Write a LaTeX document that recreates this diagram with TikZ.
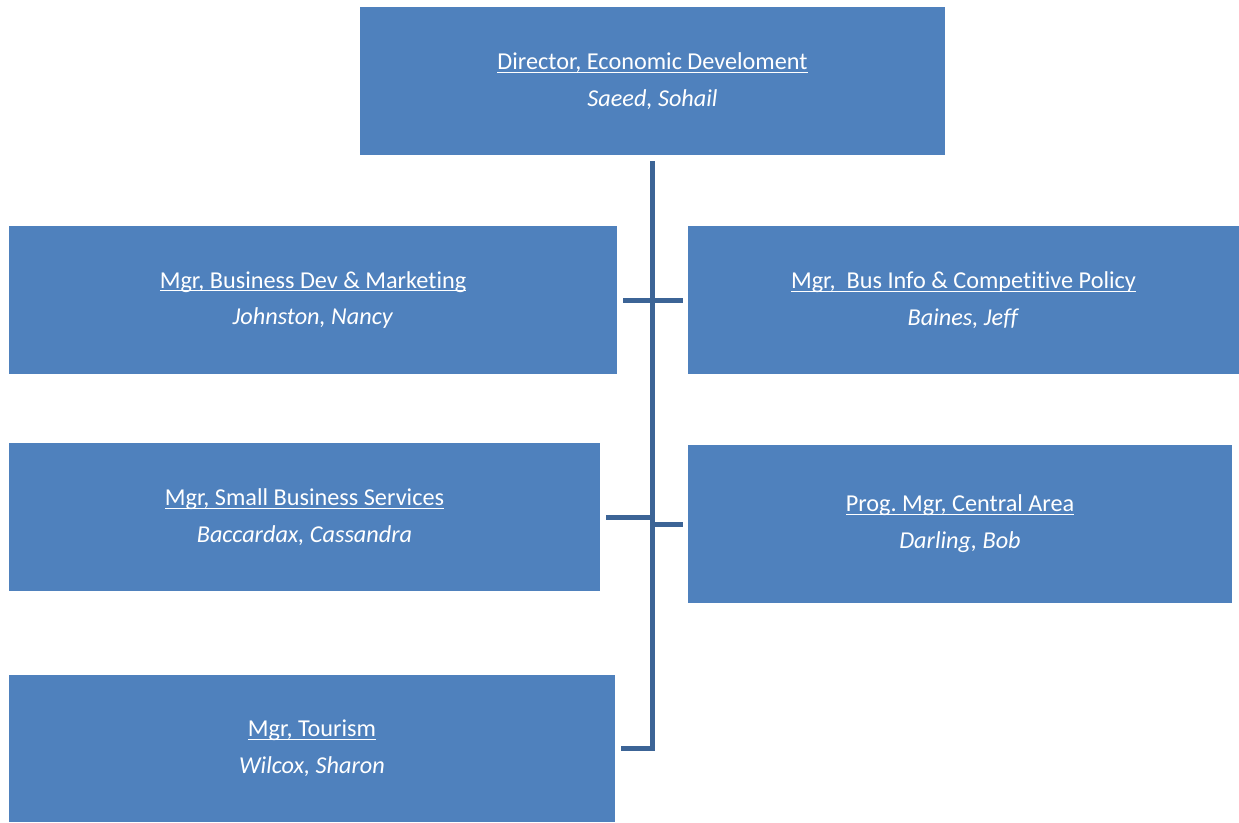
\documentclass[tikz,border=0pt]{standalone}
\usepackage{fontspec}
\setmainfont{Carlito}[Ligatures=NoCommon]
\usepackage{tikz}
\definecolor{boxblue}{RGB}{79,129,189}
\definecolor{lineblue}{RGB}{60,100,150}

\newcommand{\uln}[1]{\setbox0\hbox{#1}\rlap{\rule[-1.8pt]{\wd0}{0.6pt}}\box0}
\newcommand{\post}[2]{\uln{#1}\\\textit{#2}}
\frenchspacing

\begin{document}
\begin{tikzpicture}[x=0.02cm, y=-0.02cm]
    \tikzstyle{unit}=[rectangle, fill=boxblue, text=white, align=center, inner sep=0pt,
                      font=\fontsize{13.8}{21}\selectfont, minimum height=2.96cm]
    \tikzstyle{link}=[draw=lineblue, line width=0.1cm]

\useasboundingbox (0,0) rectangle (1239,822);

\node[unit, minimum width=11.7cm] (dir) at (652.5,81) {\post{Director, Economic Develoment}{Saeed, Sohail}};
\node[unit, minimum width=12.16cm] (bdm) at (313,300) {\post{Mgr, Business Dev \& Marketing}{Johnston, Nancy}};
\node[unit, minimum width=11.02cm] (bic) at (963.5,300) {\post{Mgr,\ \ Bus Info \& Competitive Policy}{Baines, Jeff}};
\node[unit, minimum width=11.82cm] (sbs) at (304.5,517) {\post{Mgr, Small Business Services}{Baccardax, Cassandra}};
\node[unit, minimum width=10.88cm, minimum height=3.16cm] (cen) at (960,524) {\post{Prog. Mgr, Central Area}{Darling, Bob}};
\node[unit, minimum width=12.12cm, minimum height=2.94cm] (tour) at (312,748.5) {\post{Mgr, Tourism}{Wilcox, Sharon}};

\coordinate (top) at ([yshift=-0.12cm]dir.south);

\draw[link] (top) -- (tour.east -| top) -- ([xshift=0.12cm]tour.east);
\draw[link, shorten <=0.12cm, shorten >=0.1cm] (bdm.east) -- (bic.west);
\draw[link, shorten <=0.12cm] (sbs.east) -- (sbs.east -| top);
\draw[link, shorten >=0.1cm] (cen.west -| top) -- (cen.west);
\end{tikzpicture}
\end{document}
